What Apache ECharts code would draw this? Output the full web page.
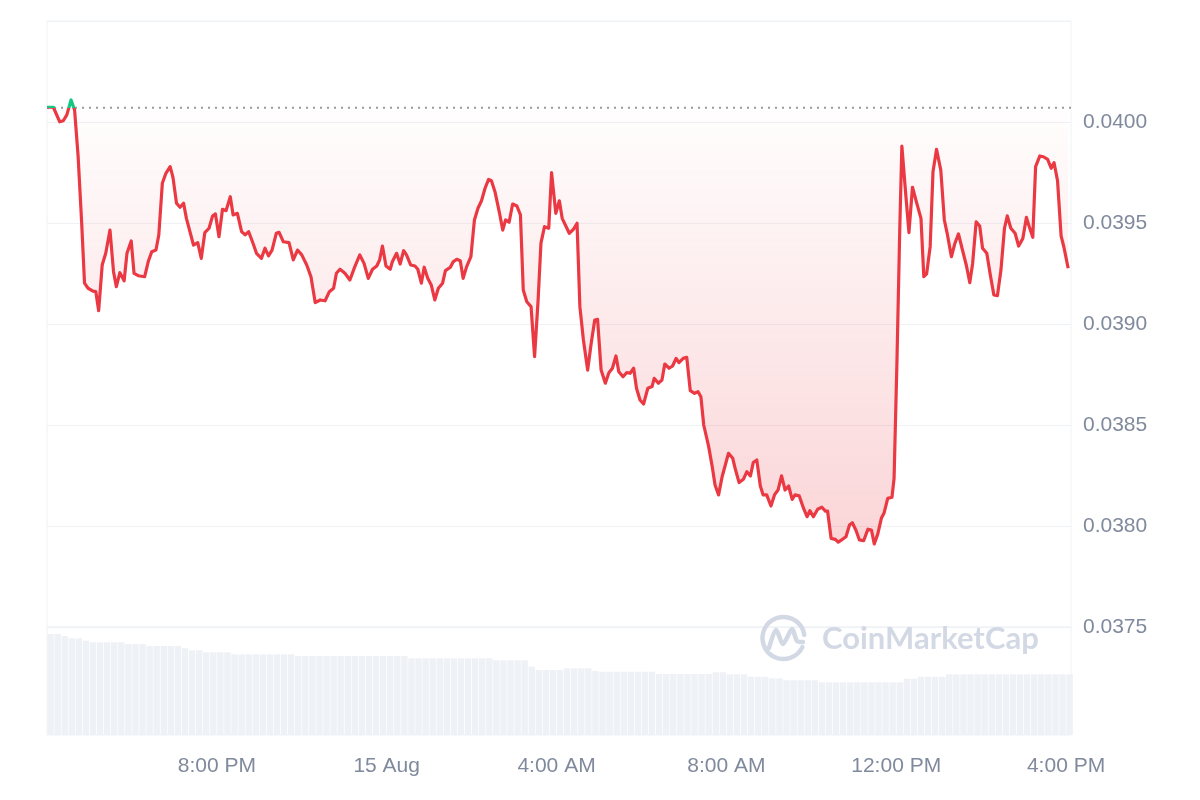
<!DOCTYPE html>
<html>
<head>
<meta charset="utf-8">
<script src="https://cdn.jsdelivr.net/npm/echarts@6/dist/echarts.min.js"></script>
<style>html,body{margin:0;padding:0;background:#fff}#c{width:1200px;height:800px}</style>
</head>
<body>
<div id="c"></div>
<script>
// minutes after 14 Aug 4:00 PM
const priceTimes = [
0,9,18,23,28,34,39,44,49,53,
58,65,69,73,78,83,89,94,98,103,
109,113,119,123,129,138,143,148,154,158,
163,168,174,178,183,188,193,197,207,213,
218,223,229,234,238,243,248,253,259,263,
269,275,280,285,292,296,303,308,313,318,
324,328,334,342,348,354,360,367,373,379,
386,393,399,405,409,414,421,428,435,442,
448,454,460,466,470,474,479,485,488,494,
499,504,508,514,520,524,529,533,538,543,
548,553,559,563,570,574,579,584,588,593,
599,604,609,614,619,624,628,633,639,644,
648,653,658,664,669,673,678,684,689,694,
698,703,709,713,719,724,728,738,744,749,
753,758,764,769,774,778,783,789,794,799,
804,808,814,819,824,829,833,838,843,849,
855,858,864,869,873,879,884,889,893,899,
904,909,915,920,924,928,935,940,944,949,
954,963,969,973,978,984,989,994,998,1003,
1008,1012,1017,1023,1028,1033,1038,1043,1048,1053,
1057,1063,1069,1074,1078,1083,1089,1095,1100,1103,
1108,1114,1118,1124,1129,1134,1138,1143,1148,1154,
1160,1165,1169,1174,1179,1183,1188,1194,1197,1201,
1205,1208,1213,1218,1223,1229,1235,1239,1243,1248,
1252,1257,1263,1268,1272,1278,1283,1288,1293,1299,
1304,1308,1313,1318,1322,1328,1333,1338,1343,1348,
1353,1357,1362,1368,1373,1379,1384,1388,1393,1397,
1403,1408,1414,1419,1423,1428,1433,1437,1443
];
const prices = [
0.040073,0.040073,0.040001,0.040006,0.040035,0.040109,0.040059,0.039828,0.039500,0.039202,
0.039177,0.039163,0.039160,0.039066,0.039292,0.039350,0.039465,0.039259,0.039185,0.039254,
0.039214,0.039350,0.039411,0.039251,0.039239,0.039234,0.039308,0.039358,0.039366,0.039441,
0.039697,0.039746,0.039779,0.039726,0.039598,0.039578,0.039598,0.039523,0.039391,0.039403,
0.039325,0.039452,0.039474,0.039535,0.039545,0.039432,0.039568,0.039561,0.039630,0.039540,
0.039548,0.039457,0.039441,0.039457,0.039391,0.039350,0.039325,0.039375,0.039337,0.039366,
0.039449,0.039454,0.039407,0.039403,0.039317,0.039366,0.039342,0.039292,0.039234,0.039106,
0.039119,0.039115,0.039160,0.039177,0.039251,0.039271,0.039251,0.039218,0.039284,0.039342,
0.039300,0.039226,0.039271,0.039287,0.039317,0.039386,0.039287,0.039271,0.039308,0.039350,
0.039297,0.039363,0.039342,0.039292,0.039287,0.039271,0.039202,0.039281,0.039226,0.039193,
0.039119,0.039177,0.039202,0.039264,0.039281,0.039308,0.039320,0.039313,0.039226,0.039284,
0.039333,0.039515,0.039573,0.039610,0.039672,0.039716,0.039709,0.039655,0.039556,0.039465,
0.039515,0.039504,0.039594,0.039584,0.039540,0.039168,0.039110,0.039086,0.038838,0.039119,
0.039400,0.039482,0.039474,0.039749,0.039548,0.039610,0.039523,0.039449,0.039469,0.039499,
0.039086,0.038921,0.038772,0.038905,0.039020,0.039023,0.038772,0.038707,0.038759,0.038781,
0.038842,0.038764,0.038739,0.038759,0.038756,0.038781,0.038682,0.038624,0.038604,0.038682,
0.038690,0.038731,0.038707,0.038723,0.038802,0.038781,0.038792,0.038830,0.038809,0.038830,
0.038835,0.038670,0.038657,0.038665,0.038640,0.038500,0.038393,0.038294,0.038203,0.038154,
0.038244,0.038360,0.038335,0.038277,0.038215,0.038231,0.038269,0.038248,0.038314,0.038327,
0.038198,0.038154,0.038154,0.038099,0.038154,0.038178,0.038248,0.038178,0.038198,0.038132,
0.038154,0.038149,0.038088,0.038046,0.038076,0.038046,0.038083,0.038093,0.038074,0.038074,
0.037939,0.037934,0.037920,0.037934,0.037947,0.038005,0.038016,0.037980,0.037931,0.037927,
0.037984,0.037980,0.037911,0.037961,0.038038,0.038066,0.038137,0.038142,0.038236,0.038806,
0.039465,0.039881,0.039663,0.039452,0.039677,0.039598,0.039523,0.039234,0.039248,0.039383,
0.039754,0.039865,0.039762,0.039515,0.039449,0.039333,0.039400,0.039446,0.039375,0.039292,
0.039205,0.039300,0.039506,0.039485,0.039375,0.039350,0.039243,0.039144,0.039140,0.039267,
0.039474,0.039535,0.039474,0.039449,0.039386,0.039424,0.039528,0.039482,0.039429,0.039779,
0.039832,0.039828,0.039815,0.039771,0.039799,0.039709,0.039436,0.039380,0.039276
];
const openPrice = 0.04007;
// volume bars, one per 10-minute interval (relative units)
const volumeStepMinutes = 10;
const volumes = [
10.1,10.1,9.9,9.67,9.67,9.43,9.27,9.27,9.27,9.27,
9.27,9.1,9.1,9.1,8.9,8.9,8.9,8.9,8.9,8.67,
8.47,8.47,8.27,8.27,8.27,8.27,8.07,8.07,8.07,8.07,
8.07,8.07,8.07,8.07,8.07,7.9,7.9,7.9,7.9,7.9,
7.9,7.9,7.9,7.9,7.9,7.9,7.9,7.9,7.9,7.9,
7.9,7.67,7.67,7.67,7.67,7.67,7.67,7.67,7.67,7.67,
7.67,7.67,7.67,7.47,7.47,7.47,7.47,7.47,6.83,6.5,
6.5,6.5,6.5,6.67,6.67,6.67,6.67,6.4,6.33,6.33,
6.33,6.33,6.33,6.33,6.33,6.33,6.1,6.1,6.1,6.1,
6.1,6.1,6.1,6.1,6.27,6.27,6.07,6.07,6.07,5.83,
5.83,5.83,5.67,5.67,5.47,5.47,5.47,5.47,5.47,5.27,
5.27,5.27,5.27,5.27,5.27,5.27,5.27,5.27,5.27,5.27,
5.27,5.63,5.63,5.83,5.83,5.83,5.83,6.07,6.07,6.07,
6.07,6.07,6.07,6.07,6.07,6.07,6.07,6.07,6.07,6.07,
6.07,6.07,6.07,6.07,6.07
];
const xTickValues = [240, 480, 720, 960, 1200, 1440];
const xTickLabels = ['8:00 PM', '15 Aug', '4:00 AM', '8:00 AM', '12:00 PM', '4:00 PM'];
const yMin = 0.0375, yMax = 0.0405, yStep = 0.0005;
const xMax = 1447;

const priceData = priceTimes.map((t, i) => [t, prices[i]]);
const baseData = [[0, openPrice], [xMax, openPrice]];
// each bar sits at the middle of its 10-minute interval
const volData = volumes.map((v, i) => [i * volumeStepMinutes + volumeStepMinutes / 2, v]);

// layout
const G = {left: 47, right: 129, top: 21, height: 606};
const V = {top: 627, height: 108};
const bFrac = (yMax - openPrice) / (yMax - yMin);
const lowFrac = (yMax - Math.min.apply(null, prices)) / (yMax - yMin);

const lineGrad = new echarts.graphic.LinearGradient(0, G.top, 0, G.top + G.height, [
  {offset: 0, color: '#16c784'}, {offset: bFrac, color: '#16c784'},
  {offset: bFrac, color: '#ea3943'}, {offset: 1, color: '#ea3943'}], true);
const areaGrad = new echarts.graphic.LinearGradient(0, G.top, 0, G.top + G.height, [
  {offset: 0, color: 'rgba(22,199,132,0.25)'}, {offset: bFrac, color: 'rgba(22,199,132,0.05)'},
  {offset: bFrac, color: 'rgba(234,57,67,0.01)'}, {offset: lowFrac, color: 'rgba(234,57,67,0.30)'},
  {offset: 1, color: 'rgba(234,57,67,0.30)'}], true);

const chart = echarts.init(document.getElementById('c'));
const font = 'Liberation Sans, Arial, sans-serif';
const wm = '#d3d9e4';
chart.setOption({
  animation: false,
  grid: [
    {left: G.left, right: G.right, top: G.top, height: G.height, show: true, borderColor: '#eff2f5', borderWidth: 1},
    {left: G.left, right: G.right, top: V.top, height: V.height, show: true, borderColor: '#eff2f5', borderWidth: 1}
  ],
  xAxis: [
    {type: 'value', gridIndex: 0, min: 0, max: xMax, show: false},
    {type: 'value', gridIndex: 1, min: 0, max: xMax, interval: 240,
      axisLine: {show: false}, axisTick: {show: false}, splitLine: {show: false},
      axisLabel: {margin: 21, color: '#808a9d', fontSize: 21, fontFamily: font,
        formatter: v => { const k = xTickValues.indexOf(Math.round(v)); return k >= 0 ? xTickLabels[k] : ''; }}}
  ],
  yAxis: [
    {type: 'value', gridIndex: 0, position: 'right', min: yMin, max: yMax, interval: yStep,
      axisLine: {show: false}, axisTick: {show: false},
      splitLine: {lineStyle: {color: '#eff2f5', width: 1}},
      axisLabel: {margin: 12, color: '#808a9d', fontSize: 21, fontFamily: font, showMaxLabel: false,
        formatter: v => v.toFixed(4)}},
    {type: 'value', gridIndex: 1, min: 0, max: 10.8, show: false}
  ],
  series: [
    {type: 'line', xAxisIndex: 0, yAxisIndex: 0, data: baseData, symbol: 'none', z: 3, silent: true,
      lineStyle: {type: [2, 5], color: '#9a9a9a', width: 2}},
    {type: 'line', xAxisIndex: 0, yAxisIndex: 0, data: priceData, symbol: 'none', z: 5,
      lineStyle: {width: 3.2, color: lineGrad, join: 'round'},
      areaStyle: {origin: openPrice, color: areaGrad}},
    {type: 'bar', xAxisIndex: 1, yAxisIndex: 1, data: volData, barWidth: 6.4,
      itemStyle: {color: '#eef1f5'}}
  ],
  graphic: [
    {type: 'arc', z: 1, shape: {cx: 783.5, cy: 638, r: 21, startAngle: 0.45, endAngle: Math.PI * 2 - 0.15, clockwise: true},
      style: {stroke: wm, lineWidth: 4.5, fill: null, lineCap: 'round'}},
    {type: 'polyline', z: 1, shape: {points: [[769,648],[776,630],[783,644],[792,629],[797,641],[803,642]], smooth: 0.25},
      style: {stroke: wm, lineWidth: 4.5, fill: null, lineCap: 'round', lineJoin: 'round'}},
    {type: 'text', z: 1, x: 822, y: 639,
      style: {text: 'CoinMarketCap', fill: wm, font: 'bold 31px Lato, Noto Sans, sans-serif', verticalAlign: 'middle'}}
  ]
});
</script>
</body>
</html>
